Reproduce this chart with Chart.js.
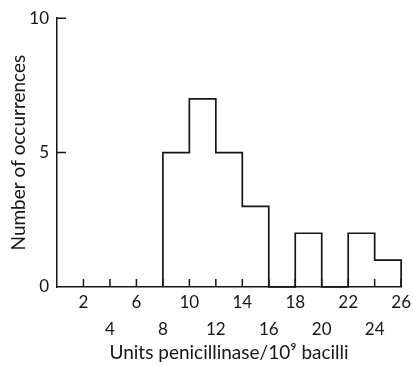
<!DOCTYPE html>
<html>
<head>
<meta charset="utf-8">
<script src="https://cdn.jsdelivr.net/npm/chart.js@4"></script>
<style>
  html, body { margin: 0; padding: 0; background: #fff; }
  #wrap { width: 413px; height: 365px; }
</style>
</head>
<body>
<div id="wrap"><canvas id="myChart" width="413" height="365"></canvas></div>
<script>
// bin edges (units penicillinase / 10^9 bacilli) and counts per bin
const binEdges = [8, 10, 12, 14, 16, 18, 20, 22, 24, 26];
const counts = [5, 7, 5, 3, 0, 2, 0, 2, 1];

const xTickValues = [2, 4, 6, 8, 10, 12, 14, 16, 18, 20, 22, 24, 26];
const upperRowLabels = [2, 6, 10, 14, 18, 22, 26];
const yTickValues = [5, 10];

const ink = "#161616";
const fontFam = "Lato, 'DejaVu Sans', sans-serif";

function buildOutline() {
  let pts = [{ x: binEdges[0], y: 0 }];
  for (let i = 0; i < counts.length; i++) {
    pts.push({ x: binEdges[i], y: counts[i] });
  }
  pts.push({ x: binEdges[binEdges.length - 1], y: 0 });
  return pts;
}

// tick marks point inward, like the original figure
const inwardTicks = {
  id: "inwardTicks",
  afterDatasetsDraw(chart) {
    const ctx = chart.ctx;
    const xs = chart.scales.x;
    const ys = chart.scales.y;
    const base = ys.getPixelForValue(0);
    const left = xs.getPixelForValue(0);
    ctx.save();
    ctx.strokeStyle = ink;
    ctx.lineWidth = 1.5;
    ctx.beginPath();
    xTickValues.forEach(function (v) {
      const px = xs.getPixelForValue(v);
      ctx.moveTo(px, base);
      ctx.lineTo(px, base - 8);
    });
    yTickValues.forEach(function (v) {
      const py = ys.getPixelForValue(v);
      ctx.moveTo(left, py);
      ctx.lineTo(left + 9, py);
    });
    ctx.stroke();
    ctx.restore();
  }
};

const config = {
  type: "line",
  data: {
    datasets: [
      {
        data: buildOutline(),
        borderColor: ink,
        borderWidth: 1.7,
        pointRadius: 0,
        stepped: "before",
        fill: false,
        clip: false,
      },
    ],
  },
  options: {
    responsive: false,
    animation: false,
    layout: { padding: { left: 0, right: 11, top: 16, bottom: 0 } },
    plugins: { legend: { display: false }, tooltip: { enabled: false } },
    scales: {
      x: {
        type: "linear",
        min: 0,
        max: 26,
        afterFit: function (s) { s.height = 78; },
        afterBuildTicks: function (s) {
          s.ticks = xTickValues.map(function (v) { return { value: v }; });
        },
        grid: { display: false, drawTicks: false },
        border: { display: true, color: ink, width: 1.5 },
        ticks: {
          color: ink,
          padding: 2,
          maxRotation: 0,
          autoSkip: false,
          font: { family: fontFam, size: 17, lineHeight: 1.59 },
          callback: function (v) {
            return upperRowLabels.indexOf(v) >= 0 ? [String(v), ""] : ["", String(v)];
          },
        },
        title: {
          display: true,
          text: "Units penicillinase/10⁹ bacilli",
          color: ink,
          font: { family: fontFam, size: 19 },
          padding: { top: 0, bottom: 1 },
        },
      },
      y: {
        min: 0,
        max: 10,
        afterFit: function (s) { s.width = 57; },
        grid: { display: false, drawTicks: false },
        border: { display: true, color: ink, width: 1.5 },
        ticks: {
          stepSize: 5,
          color: ink,
          padding: 8,
          font: { family: fontFam, size: 17 },
        },
        title: {
          display: true,
          text: "Number of occurrences",
          color: ink,
          font: { family: fontFam, size: 19 },
          padding: { top: 7, bottom: 0 },
        },
      },
    },
  },
  plugins: [inwardTicks],
};

const myChart = new Chart(document.getElementById("myChart"), config);
</script>
</body>
</html>
